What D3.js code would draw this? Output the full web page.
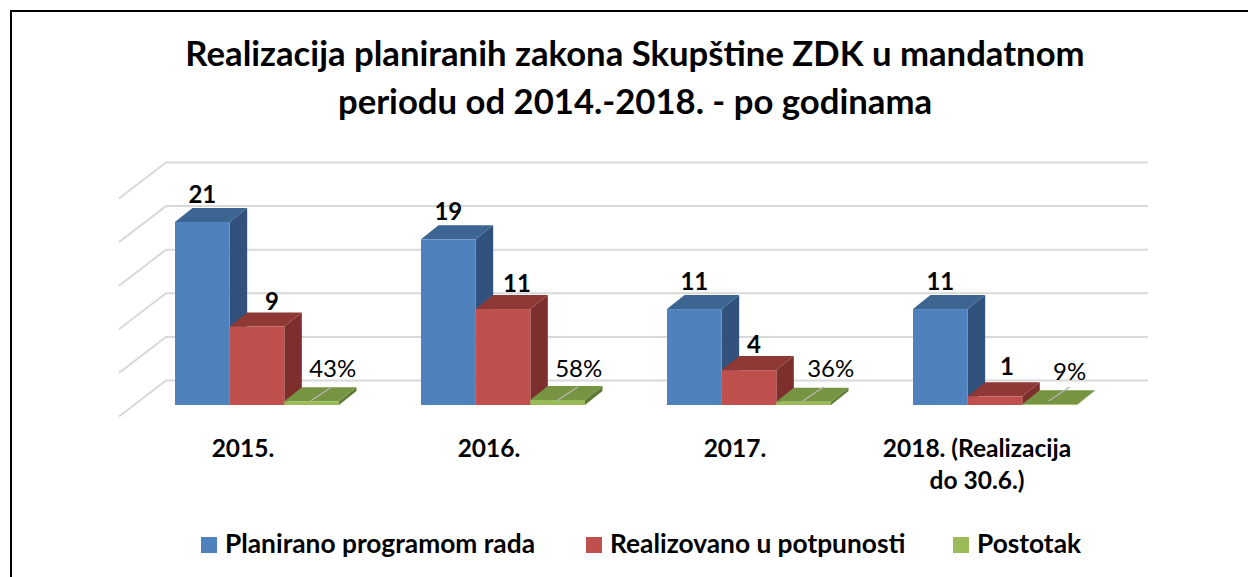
<!DOCTYPE html>
<html><head><meta charset="utf-8">
<script src="https://cdn.jsdelivr.net/npm/d3@7"></script>
<style>html,body{margin:0;background:#fff}svg{display:block}text{font-family:Lato,"Open Sans",sans-serif;fill:#000}</style>
</head><body><svg id="c" width="1248" height="577"></svg>
<script>
const titleLines = ["Realizacija planiranih zakona Skupštine ZDK u mandatnom","periodu od 2014.-2018. - po godinama"];
const categories = ["2015.","2016.","2017.","2018. (Realizacija do 30.6.)"];
const categoryLines = [["2015."],["2016."],["2017."],["2018. (Realizacija","do 30.6.)"]];
const seriesNames = ["Planirano programom rada","Realizovano u potpunosti","Postotak"];
const planned = [21,19,11,11];
const realized = [9,11,4,1];
const percent = [0.43,0.58,0.36,0.09];
const percentLabels = ["43%","58%","36%","9%"];
const yTicks = [0,5,10,15,20,25];
const faces = [
 {front:"#4f81bd",top:"#3c6592",side:"#30527c"},
 {front:"#c0504d",top:"#8f3937",side:"#7c2f2d"},
 {front:"#9bbb59",top:"#779443",side:"#5f7a35"}];
const series = [planned,realized,percent];
// hand-placed label offsets, as in the reference
const realizedDx = [15,14,5,12];
const realizedDy = [17,17,17,21];
const percentDx = [21,21,27,20];
const percentDy = [28,28,28,25];

const svg=d3.select("#c");
svg.append("path").attr("d","M11,577V11H1248").attr("fill","none").attr("stroke","#000").attr("stroke-width",2);
svg.append("g").selectAll("text").data(titleLines).join("text")
 .attr("x",635).attr("y",(d,i)=>66+i*48).attr("text-anchor","middle")
 .attr("font-size",34.7).attr("font-weight",700).text(d=>d);

const y=d3.scaleLinear().domain([0,25]).range([405,187]);
const x0=d3.scaleBand().domain(categories).range([175,1159]);
const x1=d3.scaleBand().domain(seriesNames).range([0,164]);
const barDx=17.5,barDy=14;
const backX=166,backRight=1148,sideDx=47,sideDy=36,backOff=24.5;

const grid=svg.append("g").attr("stroke","#d9d9d9").attr("stroke-width",2).attr("fill","none");
grid.selectAll("path").data(yTicks).join("path")
 .attr("d",t=>{const v=y(t)-backOff;return `M${backX-sideDx},${v+sideDy}L${backX},${v}H${backRight}`;});

const bars=svg.append("g");
categories.forEach((c,ci)=>{
  [0,1,2].forEach(si=>{
    const v=series[si][ci], f=faces[si];
    const x=x0(c)+x1(seriesNames[si]), w=x1.bandwidth();
    const y1=y(0), yT=y(v);
    const g=bars.append("g");
    g.append("polygon").attr("fill",f.side).attr("points",[[x+w,yT],[x+w+barDx,yT-barDy],[x+w+barDx,y1-barDy],[x+w,y1]].join(" "));
    g.append("polygon").attr("fill",f.top).attr("points",[[x,yT],[x+barDx,yT-barDy],[x+w+barDx,yT-barDy],[x+w,yT]].join(" "));
    g.append("rect").attr("x",x).attr("y",yT).attr("width",w).attr("height",y1-yT).attr("fill",f.front);
  });
});

const lab=svg.append("g").attr("text-anchor","middle");
categories.forEach((c,ci)=>{
  const bx=i=>x0(c)+x1(seriesNames[i])+x1.bandwidth()/2;
  lab.append("text").attr("x",bx(0)).attr("y",y(planned[ci])-19).attr("font-size",24).attr("font-weight",700).text(planned[ci]);
  lab.append("text").attr("x",bx(1)+realizedDx[ci]).attr("y",y(realized[ci])-realizedDy[ci]).attr("font-size",24).attr("font-weight",700).text(realized[ci]);
  const gx=bx(2);
  svg.append("line").attr("x1",gx-1).attr("x2",gx+20).attr("y1",y(0)-4).attr("y2",y(0)-18).attr("stroke","#b5b5b5").attr("stroke-width",1.5);
  lab.append("text").attr("x",gx+percentDx[ci]).attr("y",y(0)-percentDy[ci]).attr("font-size",24).text(percentLabels[ci]);
});

const cats=svg.append("g").attr("text-anchor","middle");
categories.forEach((c,ci)=>{
  categoryLines[ci].forEach((t,li)=>{
    cats.append("text").attr("x",x0(c)+68-(ci==3?4:0)).attr("y",457+li*32).attr("font-size",24.5).attr("font-weight",700).text(t);
  });
});

const lx=[201,586,953];
const lg=svg.append("g");
seriesNames.forEach((s,i)=>{
  lg.append("rect").attr("x",lx[i]).attr("y",537).attr("width",16).attr("height",16).attr("fill",faces[i].front);
  lg.append("text").attr("x",lx[i]+24).attr("y",553).attr("font-size",26.3).attr("font-weight",700).text(s);
});
</script></body></html>
